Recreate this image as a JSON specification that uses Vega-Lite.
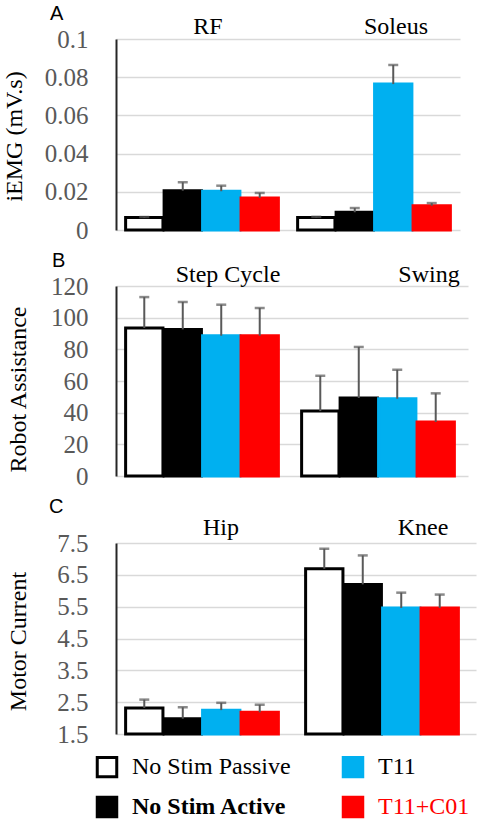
{
  "$schema": "https://vega.github.io/schema/vega-lite/v6.json",
  "background": "white",
  "padding": {"left": 1, "top": 4, "right": 5, "bottom": 5},
  "config": {
    "view": {"stroke": null},
    "font": "Liberation Serif",
    "axis": {
      "labelFont": "Liberation Serif",
      "labelFontSize": 25,
      "labelColor": "#595959",
      "labelPadding": 28,
      "labelOverlap": false,
      "ticks": false,
      "domainColor": "#262626",
      "domainWidth": 2,
      "gridColor": "#D9D9D9",
      "gridWidth": 1.5,
      "titleFont": "Liberation Serif",
      "titleFontSize": 24,
      "titleFontWeight": "normal",
      "titleColor": "#000000",
      "titleBaseline": "alphabetic"
    },
    "title": {"font": "Liberation Sans", "fontSize": 20, "fontWeight": "normal", "color": "#000000", "anchor": "start", "frame": "group", "baseline": "alphabetic"},
    "legend": {
      "orient": "none",
      "legendX": -21,
      "legendY": 716,
      "columns": 2,
      "direction": "vertical",
      "columnPadding": 46,
      "rowPadding": 8,
      "symbolType": "square",
      "symbolSize": 380,
      "symbolStrokeWidth": 3,
      "labelFont": "Liberation Serif",
      "labelFontSize": 24,
      "labelOffset": 13,
      "labelLimit": 300,
      "title": null
    }
  },
  "datasets": {
    "d": [
      {"panel": "A", "group": "RF", "condition": "No Stim Passive", "value": 0.0065, "upper": 0.0068},
      {"panel": "A", "group": "RF", "condition": "No Stim Active", "value": 0.0206, "upper": 0.025},
      {"panel": "A", "group": "RF", "condition": "T11", "value": 0.0203, "upper": 0.0232},
      {"panel": "A", "group": "RF", "condition": "T11+C01", "value": 0.0168, "upper": 0.0194},
      {"panel": "A", "group": "Soleus", "condition": "No Stim Passive", "value": 0.0066, "upper": 0.0069},
      {"panel": "A", "group": "Soleus", "condition": "No Stim Active", "value": 0.0093, "upper": 0.0115},
      {"panel": "A", "group": "Soleus", "condition": "T11", "value": 0.0764, "upper": 0.0864},
      {"panel": "A", "group": "Soleus", "condition": "T11+C01", "value": 0.0127, "upper": 0.0141},
      {"panel": "B", "group": "Step Cycle", "condition": "No Stim Passive", "value": 93.5, "upper": 113},
      {"panel": "B", "group": "Step Cycle", "condition": "No Stim Active", "value": 92.6, "upper": 109.9},
      {"panel": "B", "group": "Step Cycle", "condition": "T11", "value": 88.6, "upper": 108.2},
      {"panel": "B", "group": "Step Cycle", "condition": "T11+C01", "value": 88.6, "upper": 106.1},
      {"panel": "B", "group": "Swing", "condition": "No Stim Passive", "value": 41, "upper": 63.3},
      {"panel": "B", "group": "Swing", "condition": "No Stim Active", "value": 49.3, "upper": 81.5},
      {"panel": "B", "group": "Swing", "condition": "T11", "value": 48.8, "upper": 67.1},
      {"panel": "B", "group": "Swing", "condition": "T11+C01", "value": 34.1, "upper": 52.2},
      {"panel": "C", "group": "Hip", "condition": "No Stim Passive", "value": 2.32, "upper": 2.58},
      {"panel": "C", "group": "Hip", "condition": "No Stim Active", "value": 1.98, "upper": 2.34},
      {"panel": "C", "group": "Hip", "condition": "T11", "value": 2.25, "upper": 2.48},
      {"panel": "C", "group": "Hip", "condition": "T11+C01", "value": 2.18, "upper": 2.42},
      {"panel": "C", "group": "Knee", "condition": "No Stim Passive", "value": 6.69, "upper": 7.32},
      {"panel": "C", "group": "Knee", "condition": "No Stim Active", "value": 6.2, "upper": 7.11},
      {"panel": "C", "group": "Knee", "condition": "T11", "value": 5.46, "upper": 5.94},
      {"panel": "C", "group": "Knee", "condition": "T11+C01", "value": 5.46, "upper": 5.88}
    ]
  },
  "spacing": 8,
  "vconcat": [
    {
      "width": 344,
      "height": 191,
      "title": {"text": "A", "dx": -66, "offset": -9},
      "data": {"name": "d"},
      "transform": [{"filter": "datum.panel == 'A'"}],
      "encoding": {
        "x": {"field": "group", "type": "nominal", "sort": ["RF", "Soleus"], "axis": null, "scale": {"paddingInner": 0, "paddingOuter": 0}}
      },
      "layer": [
        {
          "mark": {"type": "bar", "strokeWidth": 3},
          "encoding": {
            "xOffset": {"field": "condition", "type": "nominal", "scale": {"domain": ["No Stim Passive", "No Stim Active", "T11", "T11+C01"], "paddingOuter": 0.25, "paddingInner": 0.03}},
            "y": {"field": "value", "type": "quantitative", "scale": {"domain": [0, 0.1], "nice": false}, "axis": {"title": "iEMG (mV.s)", "values": [0, 0.02, 0.04, 0.06, 0.08, 0.1], "tickCount": 20, "format": "~g", "labelOverlap": false, "titleX": -95, "titleY": 97}},
            "fill": {"field": "condition", "type": "nominal", "scale": {"domain": ["No Stim Passive", "No Stim Active", "T11", "T11+C01"], "range": ["#FFFFFF", "#000000", "#00B0F0", "#FF0000"]}, "legend": {"labelColor": {"expr": "datum.label == 'T11+C01' ? '#FF0000' : '#000000'"}, "labelFontWeight": {"expr": "datum.label == 'No Stim Active' ? 'bold' : 'normal'"}}},
            "stroke": {"field": "condition", "type": "nominal", "scale": {"domain": ["No Stim Passive", "No Stim Active", "T11", "T11+C01"], "range": ["#000000", "#000000", "#00B0F0", "#FF0000"]}, "legend": {"labelColor": {"expr": "datum.label == 'T11+C01' ? '#FF0000' : '#000000'"}, "labelFontWeight": {"expr": "datum.label == 'No Stim Active' ? 'bold' : 'normal'"}}}
          }
        },
        {
          "mark": {"type": "rule", "color": "#595959", "strokeWidth": 2},
          "encoding": {
            "xOffset": {"field": "condition", "type": "nominal"},
            "y": {"field": "value", "type": "quantitative"}, "y2": {"field": "upper"}}
        },
        {
          "mark": {"type": "tick", "color": "#595959", "thickness": 2.5, "size": 10},
          "encoding": {
            "xOffset": {"field": "condition", "type": "nominal"},
            "y": {"field": "upper", "type": "quantitative"}}
        },
        {
          "transform": [{"filter": "datum.condition == 'No Stim Passive'"}],
          "mark": {"type": "text", "fontSize": 24, "color": "#000000", "baseline": "alphabetic", "dy": -5, "dx": {"expr": "datum.group == 'Soleus' ? 22 : 6"}},
          "encoding": {"y": {"datum": 0.1}, "text": {"field": "group"}}
        }
      ]
    },
    {
      "width": 352,
      "height": 190,
      "title": {"text": "B", "dx": -64, "offset": -8},
      "data": {"name": "d"},
      "transform": [{"filter": "datum.panel == 'B'"}],
      "encoding": {
        "x": {"field": "group", "type": "nominal", "sort": ["Step Cycle", "Swing"], "axis": null, "scale": {"paddingInner": 0, "paddingOuter": 0}}
      },
      "layer": [
        {
          "mark": {"type": "bar", "strokeWidth": 3},
          "encoding": {
            "xOffset": {"field": "condition", "type": "nominal", "scale": {"domain": ["No Stim Passive", "No Stim Active", "T11", "T11+C01"], "paddingOuter": 0.24, "paddingInner": 0.04}},
            "y": {"field": "value", "type": "quantitative", "scale": {"domain": [0, 120], "nice": false}, "axis": {"title": "Robot Assistance", "values": [0, 20, 40, 60, 80, 100, 120], "tickCount": 20, "labelOverlap": false, "titleX": -91, "titleY": 103}},
            "fill": {"field": "condition", "type": "nominal", "scale": {"domain": ["No Stim Passive", "No Stim Active", "T11", "T11+C01"], "range": ["#FFFFFF", "#000000", "#00B0F0", "#FF0000"]}, "legend": {"labelColor": {"expr": "datum.label == 'T11+C01' ? '#FF0000' : '#000000'"}, "labelFontWeight": {"expr": "datum.label == 'No Stim Active' ? 'bold' : 'normal'"}}},
            "stroke": {"field": "condition", "type": "nominal", "scale": {"domain": ["No Stim Passive", "No Stim Active", "T11", "T11+C01"], "range": ["#000000", "#000000", "#00B0F0", "#FF0000"]}, "legend": {"labelColor": {"expr": "datum.label == 'T11+C01' ? '#FF0000' : '#000000'"}, "labelFontWeight": {"expr": "datum.label == 'No Stim Active' ? 'bold' : 'normal'"}}}
          }
        },
        {
          "mark": {"type": "rule", "color": "#595959", "strokeWidth": 2},
          "encoding": {
            "xOffset": {"field": "condition", "type": "nominal"},
            "y": {"field": "value", "type": "quantitative"}, "y2": {"field": "upper"}}
        },
        {
          "mark": {"type": "tick", "color": "#595959", "thickness": 2.5, "size": 10},
          "encoding": {
            "xOffset": {"field": "condition", "type": "nominal"},
            "y": {"field": "upper", "type": "quantitative"}}
        },
        {
          "transform": [{"filter": "datum.condition == 'No Stim Passive'"}],
          "mark": {"type": "text", "fontSize": 24, "color": "#000000", "baseline": "alphabetic", "dy": -4, "dx": {"expr": "datum.group == 'Swing' ? 49 : 24"}},
          "encoding": {"y": {"datum": 120}, "text": {"field": "group"}}
        }
      ]
    },
    {
      "width": 360,
      "height": 191,
      "title": {"text": "C", "dx": -67, "offset": -1},
      "data": {"name": "d"},
      "transform": [{"filter": "datum.panel == 'C'"}],
      "encoding": {
        "x": {"field": "group", "type": "nominal", "sort": ["Hip", "Knee"], "axis": null, "scale": {"paddingInner": 0, "paddingOuter": 0}}
      },
      "layer": [
        {
          "mark": {"type": "bar", "strokeWidth": 3},
          "encoding": {
            "xOffset": {"field": "condition", "type": "nominal", "scale": {"domain": ["No Stim Passive", "No Stim Active", "T11", "T11+C01"], "paddingOuter": 0.28, "paddingInner": 0.04}},
            "y": {"field": "value", "type": "quantitative", "scale": {"domain": [1.5, 7.5], "nice": false, "zero": false}, "axis": {"title": "Motor Current", "values": [1.5, 2.5, 3.5, 4.5, 5.5, 6.5, 7.5], "tickCount": 20, "format": ".1f", "labelOverlap": false, "titleX": -91, "titleY": 98}},
            "y2": {"datum": 1.5},
            "fill": {"field": "condition", "type": "nominal", "scale": {"domain": ["No Stim Passive", "No Stim Active", "T11", "T11+C01"], "range": ["#FFFFFF", "#000000", "#00B0F0", "#FF0000"]}, "legend": {"labelColor": {"expr": "datum.label == 'T11+C01' ? '#FF0000' : '#000000'"}, "labelFontWeight": {"expr": "datum.label == 'No Stim Active' ? 'bold' : 'normal'"}}},
            "stroke": {"field": "condition", "type": "nominal", "scale": {"domain": ["No Stim Passive", "No Stim Active", "T11", "T11+C01"], "range": ["#000000", "#000000", "#00B0F0", "#FF0000"]}, "legend": {"labelColor": {"expr": "datum.label == 'T11+C01' ? '#FF0000' : '#000000'"}, "labelFontWeight": {"expr": "datum.label == 'No Stim Active' ? 'bold' : 'normal'"}}}
          }
        },
        {
          "mark": {"type": "rule", "color": "#595959", "strokeWidth": 2},
          "encoding": {
            "xOffset": {"field": "condition", "type": "nominal"},
            "y": {"field": "value", "type": "quantitative"}, "y2": {"field": "upper"}}
        },
        {
          "mark": {"type": "tick", "color": "#595959", "thickness": 2.5, "size": 10},
          "encoding": {
            "xOffset": {"field": "condition", "type": "nominal"},
            "y": {"field": "upper", "type": "quantitative"}}
        },
        {
          "transform": [{"filter": "datum.condition == 'No Stim Passive'"}],
          "mark": {"type": "text", "fontSize": 24, "color": "#000000", "baseline": "alphabetic", "dy": -8, "dx": {"expr": "datum.group == 'Knee' ? 37 : 15"}},
          "encoding": {"y": {"datum": 7.5}, "text": {"field": "group"}}
        }
      ]
    }
  ]
}
